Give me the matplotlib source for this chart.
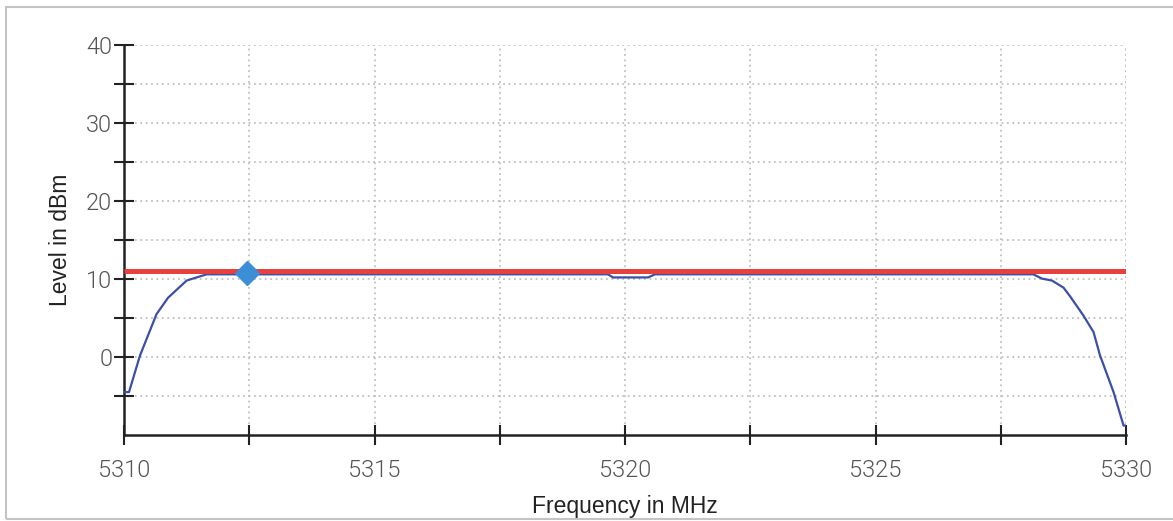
import matplotlib.pyplot as plt
from matplotlib.patches import Rectangle
from matplotlib.ticker import FixedLocator

# measured spectrum trace
freq = [5310.0, 5310.1, 5310.32, 5310.65, 5310.88, 5311.25, 5311.65,
        5319.66, 5319.76, 5320.46, 5320.6,
        5328.15, 5328.32, 5328.52, 5328.75, 5328.88, 5329.15, 5329.35,
        5329.48, 5329.75, 5329.95, 5330.0]
level = [-4.5, -4.5, 0.2, 5.5, 7.6, 9.8, 10.6,
         10.6, 10.2, 10.2, 10.6,
         10.6, 10.05, 9.8, 8.9, 7.8, 5.3, 3.2,
         0.2, -4.5, -8.8, -8.8]

limit_level = 11.0
marker_freq = 5312.45
marker_level = 10.8

x_ticks = [5310, 5315, 5320, 5325, 5330]
x_minor = [5312.5, 5317.5, 5322.5, 5327.5]
y_ticks = [0, 10, 20, 30, 40]
y_minor = [-5, 5, 15, 25, 35]

fig = plt.figure(figsize=(11.73, 5.21), dpi=100)
ax = fig.add_axes([0.1057, 0.1651, 0.8543, 0.7485])

# outer frame
fig.patches.append(Rectangle((6 / 1173, 2 / 521), 1.2, 1 - 9 / 521,
                             transform=fig.transFigure, fill=False,
                             edgecolor="#c4c4c4", linewidth=1.5))

ax.plot(freq, level, color="#3b4fa6", lw=1.6, zorder=3)
ax.plot([x_ticks[0], x_ticks[-1]], [limit_level, limit_level],
        color="#e8403d", lw=3.6, zorder=4, solid_capstyle="butt")
ax.plot([marker_freq], [marker_level], marker="D", ms=12,
        color="#3c8fd6", zorder=5, lw=0)

ax.set_xlim(5310, 5330)
ax.set_ylim(-10, 40)
ax.set_xticks(x_ticks)
ax.set_xticklabels([str(v) for v in x_ticks])
ax.set_yticks(y_ticks)
ax.set_yticklabels([str(v) for v in y_ticks])
ax.xaxis.set_minor_locator(FixedLocator(x_minor))
ax.yaxis.set_minor_locator(FixedLocator(y_minor))

for side in ["top", "right"]:
    ax.spines[side].set_visible(False)
for side in ["left", "bottom"]:
    ax.spines[side].set_color("#222222")
    ax.spines[side].set_linewidth(1.8)

for which in ["major", "minor"]:
    ax.tick_params(which=which, direction="inout", length=15, width=1.5,
                   color="#222222")
ax.tick_params(labelsize=17, labelcolor="#555555")
ax.tick_params(axis="x", pad=10)
ax.tick_params(axis="y", pad=1)
for lab in ax.get_xticklabels() + ax.get_yticklabels():
    lab.set_fontfamily(["Roboto", "DejaVu Sans"])
    lab.set_fontweight(300)

ax.grid(True, which="both", ls=(0, (1, 2)), color="#c0c0c0", lw=1.3)
# grid line on the right edge
ax.axvline(5330, ls=(0, (1, 2)), color="#c0c0c0", lw=1.3, zorder=0.5)

ax.set_xlabel("Frequency in MHz", fontsize=16.5, color="#222222",
              labelpad=9, family=["Liberation Sans", "DejaVu Sans"])
ax.set_ylabel("Level in dBm", fontsize=16.5, color="#222222",
              labelpad=10, family=["Liberation Sans", "DejaVu Sans"])

fig.savefig("out.png", dpi=100)
